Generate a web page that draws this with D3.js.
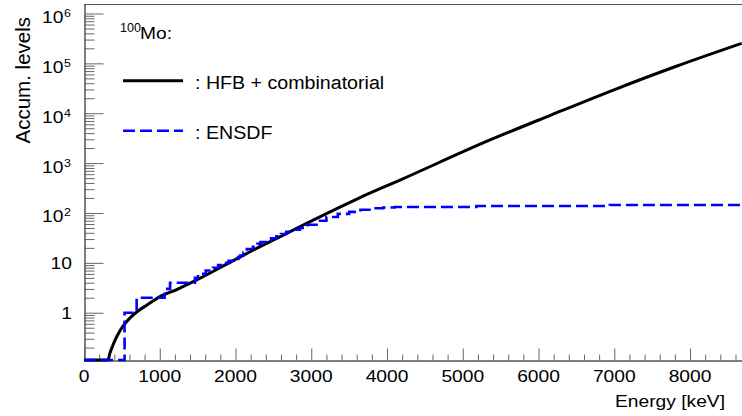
<!DOCTYPE html>
<html>
<head>
<meta charset="utf-8">
<script src="https://cdn.jsdelivr.net/npm/d3@7"></script>
<style>
  html, body { margin: 0; padding: 0; background: #fff; }
  svg { display: block; }
  text { font-family: "Liberation Sans", Arial, Helvetica, sans-serif; fill: #000; }
</style>
</head>
<body>
<svg id="chart" width="742" height="416"></svg>
<script>
// HFB + combinatorial cumulative level curve
const hfbEnergy = [0, 317, 343, 383, 436, 515, 607, 713, 832, 1003, 1224, 1443, 1971, 2191, 2631, 3072, 3617, 4172, 5360, 6165, 6988, 7828, 8682];
const hfbLevels = [0.001, 0.1127, 0.1555, 0.225, 0.341, 0.541, 0.784, 1.08, 1.43, 2.1, 2.92, 4.19, 11.1, 16.7, 36.1, 78.2, 195, 457, 2910, 9200, 29200, 88500, 252000];

// ENSDF cumulative level count (step function)
const ensdfEnergy = [0, 535.6, 695.1, 1064, 1136, 1464, 1505, 1607, 1700, 1771, 1848, 1908, 1977, 2037, 2060, 2105, 2150, 2230, 2290, 2330, 2400, 2470, 2540, 2600, 2670, 2750, 2850, 2950, 3070, 3200, 3350, 3500, 3650, 3800, 3950, 4100, 5180, 6940, 8700];
const ensdfLevels = [0, 1, 2, 3, 4, 5, 6, 7, 8, 9, 10, 11, 12, 13, 14, 16, 19, 21, 24, 26, 28, 31, 34, 38, 42, 46, 50, 58, 70, 83, 96, 105, 116, 124, 129, 132, 138, 145, 145];

const xMajorTicks = [0, 1000, 2000, 3000, 4000, 5000, 6000, 7000, 8000];
const yDecades = [0, 1, 2, 3, 4, 5, 6];

const svg = d3.select('#chart');
const padLeft = 84, padRight = 742, padTop = 4, padBottom = 360;

const x = d3.scaleLinear().domain([0, 8686]).range([padLeft, padRight]);
const y = d3.scaleLog().domain([0.1127, 1.55e6]).range([padBottom, padTop]).clamp(true);

const stretch = 1.13;
function widen(sel, k) {
    sel.each(function() {
        const w = this.getComputedTextLength();
        d3.select(this).attr('textLength', w * k).attr('lengthAdjust', 'spacingAndGlyphs');
    });
}

svg.append('defs').append('clipPath').attr('id', 'plot')
    .append('rect').attr('x', padLeft).attr('y', padTop)
    .attr('width', padRight - padLeft).attr('height', padBottom - padTop + 2);

// frame
svg.append('line').attr('x1', padLeft).attr('x2', padRight).attr('y1', padTop + 0.5).attr('y2', padTop + 0.5)
    .attr('stroke', '#555').attr('stroke-width', 1);

// minor ticks
const yMinor = [];
for (let d = -1; d <= 6; d++) {
    for (let k = 2; k <= 9; k++) {
        const v = k * Math.pow(10, d);
        if (v > y.domain()[0] && v < y.domain()[1]) yMinor.push(v);
    }
}
const xMinor = d3.range(0, 8700, 200).filter(v => v % 1000 !== 0);

const axisStyle = g => {
    g.select('.domain').attr('stroke', '#555');
    g.selectAll('.tick line').attr('stroke', '#666');
    g.selectAll('.tick text').remove();
};

svg.append('g').attr('transform', `translate(${padLeft + 0.5},0)`)
    .call(d3.axisLeft(y).tickValues(yMinor).tickSize(-10).tickSizeOuter(0).tickFormat(''))
    .call(axisStyle);
svg.append('g').attr('transform', `translate(${padLeft + 0.5},0)`)
    .call(d3.axisLeft(y).tickValues(yDecades.map(d => Math.pow(10, d))).tickSize(-19).tickSizeOuter(0).tickFormat(''))
    .call(axisStyle);
svg.append('g').attr('transform', `translate(0,${padBottom + 0.5})`)
    .call(d3.axisBottom(x).tickValues(xMinor).tickSize(-6).tickSizeOuter(0).tickFormat(''))
    .call(axisStyle);
svg.append('g').attr('transform', `translate(0,${padBottom + 0.5})`)
    .call(d3.axisBottom(x).tickValues(xMajorTicks).tickSize(-12).tickSizeOuter(0).tickFormat(''))
    .call(axisStyle);

// x tick labels
const xl = svg.append('g').selectAll('text').data(xMajorTicks).enter().append('text')
    .attr('x', d => x(d)).attr('y', 382)
    .attr('text-anchor', 'middle').style('font-size', '17px')
    .text(d => d);
widen(xl, stretch);

// y tick labels
yDecades.forEach(d => {
    const ty = y(Math.pow(10, d));
    if (d < 2) {
        const t = svg.append('text').attr('x', 72).attr('y', ty + 6.5)
            .attr('text-anchor', 'end').style('font-size', '17px').text(d === 0 ? '1' : '10');
        widen(t, stretch);
    } else {
        const b = svg.append('text').attr('x', 63.5).attr('y', ty + 9.5)
            .attr('text-anchor', 'end').style('font-size', '17px').text('10');
        widen(b, stretch);
        const e = svg.append('text').attr('x', 64).attr('y', ty + 3.5)
            .style('font-size', '11px').text(d);
        widen(e, stretch);
    }
});

// axis titles
const xt = svg.append('text').attr('x', 725).attr('y', 407)
    .attr('text-anchor', 'end').style('font-size', '17px').text('Energy [keV]');
widen(xt, stretch);
svg.append('text').attr('transform', 'translate(30,17) rotate(-90)')
    .attr('text-anchor', 'end').style('font-size', '20.5px').text('Accum. levels');

// curves
const plot = svg.append('g').attr('clip-path', 'url(#plot)');
const hfbLine = d3.line().x(d => x(d[0])).y(d => y(d[1])).curve(d3.curveMonotoneX);
const ensdfLine = d3.line().x(d => x(d[0])).y(d => y(d[1])).curve(d3.curveStepAfter);

plot.append('path')
    .datum(hfbEnergy.map((e, i) => [e, hfbLevels[i]]))
    .attr('d', hfbLine)
    .attr('fill', 'none').attr('stroke', '#000').attr('stroke-width', 3);

plot.append('path')
    .datum(ensdfEnergy.map((e, i) => [e, ensdfLevels[i]]))
    .attr('d', ensdfLine)
    .attr('fill', 'none').attr('stroke', '#0000ff').attr('stroke-width', 2.6)
    .attr('stroke-dasharray', '12,5');

// legend
svg.append('text').attr('x', 120).attr('y', 32).style('font-size', '12.5px').text('100');
const mo = svg.append('text').attr('x', 140).attr('y', 38.5).style('font-size', '17px').text('Mo:');
widen(mo, stretch);

const legendItems = [
    { label: ': HFB + combinatorial', color: '#000', dash: null, width: 3, ly: 80.7 },
    { label: ': ENSDF', color: '#0000ff', dash: '12,5', width: 2.6, ly: 130.7 }
];
legendItems.forEach(it => {
    svg.append('line').attr('x1', 123).attr('x2', 183).attr('y1', it.ly).attr('y2', it.ly)
        .attr('stroke', it.color).attr('stroke-width', it.width)
        .attr('stroke-dasharray', it.dash);
    const t = svg.append('text').attr('x', 195).attr('y', it.ly + 7.8)
        .style('font-size', '18px').text(it.label);
    widen(t, 1.09);
});
</script>
</body>
</html>
